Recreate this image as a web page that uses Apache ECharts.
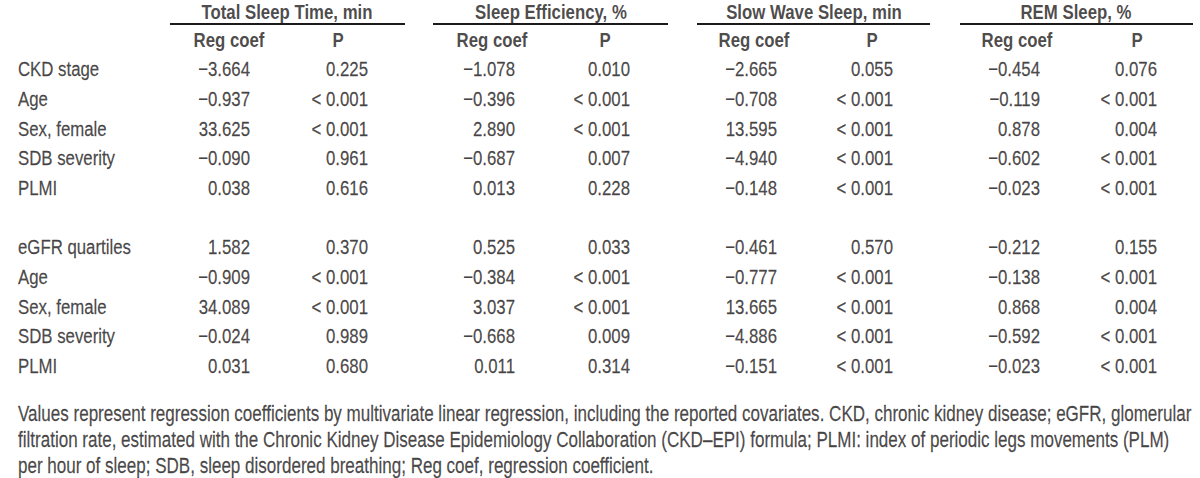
<!DOCTYPE html>
<html>
<head>
<meta charset="utf-8">
<script src="https://cdn.jsdelivr.net/npm/echarts@6/dist/echarts.min.js"></script>
<style>
html,body{margin:0;padding:0;background:#fff;overflow:hidden;width:1200px;height:478px;}
/* the source uses a condensed sans face; emulate it by drawing wider and compressing horizontally */
#chart{width:1500px;height:478px;transform:scaleX(0.8);transform-origin:0 0;}
</style>
</head>
<body>
<div id="chart"></div>
<script>
// ---------- DATA ----------
const groups = ['Total Sleep Time, min', 'Sleep Efficiency, %', 'Slow Wave Sleep, min', 'REM Sleep, %'];
const subHeaders = ['Reg coef', 'P'];
const rowLabels1 = ['CKD stage', 'Age', 'Sex, female', 'SDB severity', 'PLMI'];
const rowLabels2 = ['eGFR quartiles', 'Age', 'Sex, female', 'SDB severity', 'PLMI'];
const LT = '<0.001';

// block 1: CKD stage model
const tstCoef1 = [-3.664, -0.937, 33.625, -0.090, 0.038];
const tstP1    = [0.225, LT, LT, 0.961, 0.616];
const seCoef1  = [-1.078, -0.396, 2.890, -0.687, 0.013];
const seP1     = [0.010, LT, LT, 0.007, 0.228];
const swsCoef1 = [-2.665, -0.708, 13.595, -4.940, -0.148];
const swsP1    = [0.055, LT, LT, LT, LT];
const remCoef1 = [-0.454, -0.119, 0.878, -0.602, -0.023];
const remP1    = [0.076, LT, 0.004, LT, LT];

// block 2: eGFR quartiles model
const tstCoef2 = [1.582, -0.909, 34.089, -0.024, 0.031];
const tstP2    = [0.370, LT, LT, 0.989, 0.680];
const seCoef2  = [0.525, -0.384, 3.037, -0.668, 0.011];
const seP2     = [0.033, LT, LT, 0.009, 0.314];
const swsCoef2 = [-0.461, -0.777, 13.665, -4.886, -0.151];
const swsP2    = [0.570, LT, LT, LT, LT];
const remCoef2 = [-0.212, -0.138, 0.868, -0.592, -0.023];
const remP2    = [0.155, LT, 0.004, LT, LT];

const footnoteLines = [
  'Values represent regression coefficients by multivariate linear regression, including the reported covariates. CKD, chronic kidney disease; eGFR, glomerular',
  'filtration rate, estimated with the Chronic Kidney Disease Epidemiology Collaboration (CKD\u2013EPI) formula; PLMI: index of periodic legs movements (PLM)',
  'per hour of sleep; SDB, sleep disordered breathing; Reg coef, regression coefficient.'
];

// ---------- LAYOUT (positions / styles) ----------
const L = {
  W: 1200, H: 478,
  labelX: 18,
  groupCenter: [287, 551, 814, 1076],
  lineSpan: [[170, 405], [433, 668], [697, 930], [960, 1193]],
  subCenter: [[229, 338], [492, 605], [754, 872], [1017, 1137]],
  colRight: [[250, 368], [515, 630], [777, 893], [1040, 1157]],
  groupY: 11.5, lineY: 24, subY: 40,
  block1Y: 69, block2Y: 247, rowStep: 29.7,
  footY: 414, footStep: 26,
  font: '"Liberation Sans", Arial, Helvetica, sans-serif',
  size: 21, footSize: 21.3,
  color: '#1e1a1b'
};

function fmtCoef(v) {
  const s = Math.abs(v).toFixed(3);
  return v < 0 ? '\u2212' + s : s;
}
function fmtP(v) {
  return v === LT ? '< 0.001' : v.toFixed(3);
}

const cells = []; // [x, y, text, align, bold, size]
groups.forEach((g, i) => {
  cells.push([L.groupCenter[i], L.groupY, g, 'center', true, L.size]);
  subHeaders.forEach((s, j) => cells.push([L.subCenter[i][j], L.subY, s, 'center', true, L.size]));
});
const blocks = [
  {y0: L.block1Y, labels: rowLabels1, cols: [[tstCoef1, tstP1], [seCoef1, seP1], [swsCoef1, swsP1], [remCoef1, remP1]]},
  {y0: L.block2Y, labels: rowLabels2, cols: [[tstCoef2, tstP2], [seCoef2, seP2], [swsCoef2, swsP2], [remCoef2, remP2]]}
];
blocks.forEach(b => {
  b.labels.forEach((lab, r) => {
    const y = b.y0 + r * L.rowStep;
    cells.push([L.labelX, y, lab, 'left', false, L.size]);
    b.cols.forEach((pair, gi) => {
      cells.push([L.colRight[gi][0], y, fmtCoef(pair[0][r]), 'right', false, L.size]);
      cells.push([L.colRight[gi][1], y, fmtP(pair[1][r]), 'right', false, L.size]);
    });
  });
});
footnoteLines.forEach((t, i) => cells.push([L.labelX, L.footY + i * L.footStep, t, 'left', false, L.footSize]));

const chart = echarts.init(document.getElementById('chart'), null, {renderer: 'svg'});
chart.setOption({
  backgroundColor: '#ffffff',
  animation: false,
  grid: {left: 0, right: 0, top: 0, bottom: 0},
  xAxis: {type: 'value', min: 0, max: L.W, show: false},
  yAxis: {type: 'value', min: 0, max: L.H, inverse: true, show: false},
  series: [{
    type: 'scatter',
    symbolSize: 0,
    silent: true,
    data: cells.map(c => ({
      value: [c[0], c[1]],
      label: {
        show: true,
        position: 'inside',
        formatter: c[2],
        align: c[3],
        verticalAlign: 'middle',
        fontWeight: c[4] ? 'bold' : 'normal',
        fontSize: c[5],
        fontFamily: L.font,
        color: L.color,
        textBorderColor: L.color,
        textBorderWidth: c[4] ? 0 : 0.25
      }
    })),
    markLine: {
      silent: true,
      symbol: 'none',
      label: {show: false},
      lineStyle: {color: L.color, width: 1.8, type: 'solid'},
      data: L.lineSpan.map(s => [{coord: [s[0], L.lineY]}, {coord: [s[1], L.lineY]}])
    }
  }]
});
</script>
</body>
</html>
